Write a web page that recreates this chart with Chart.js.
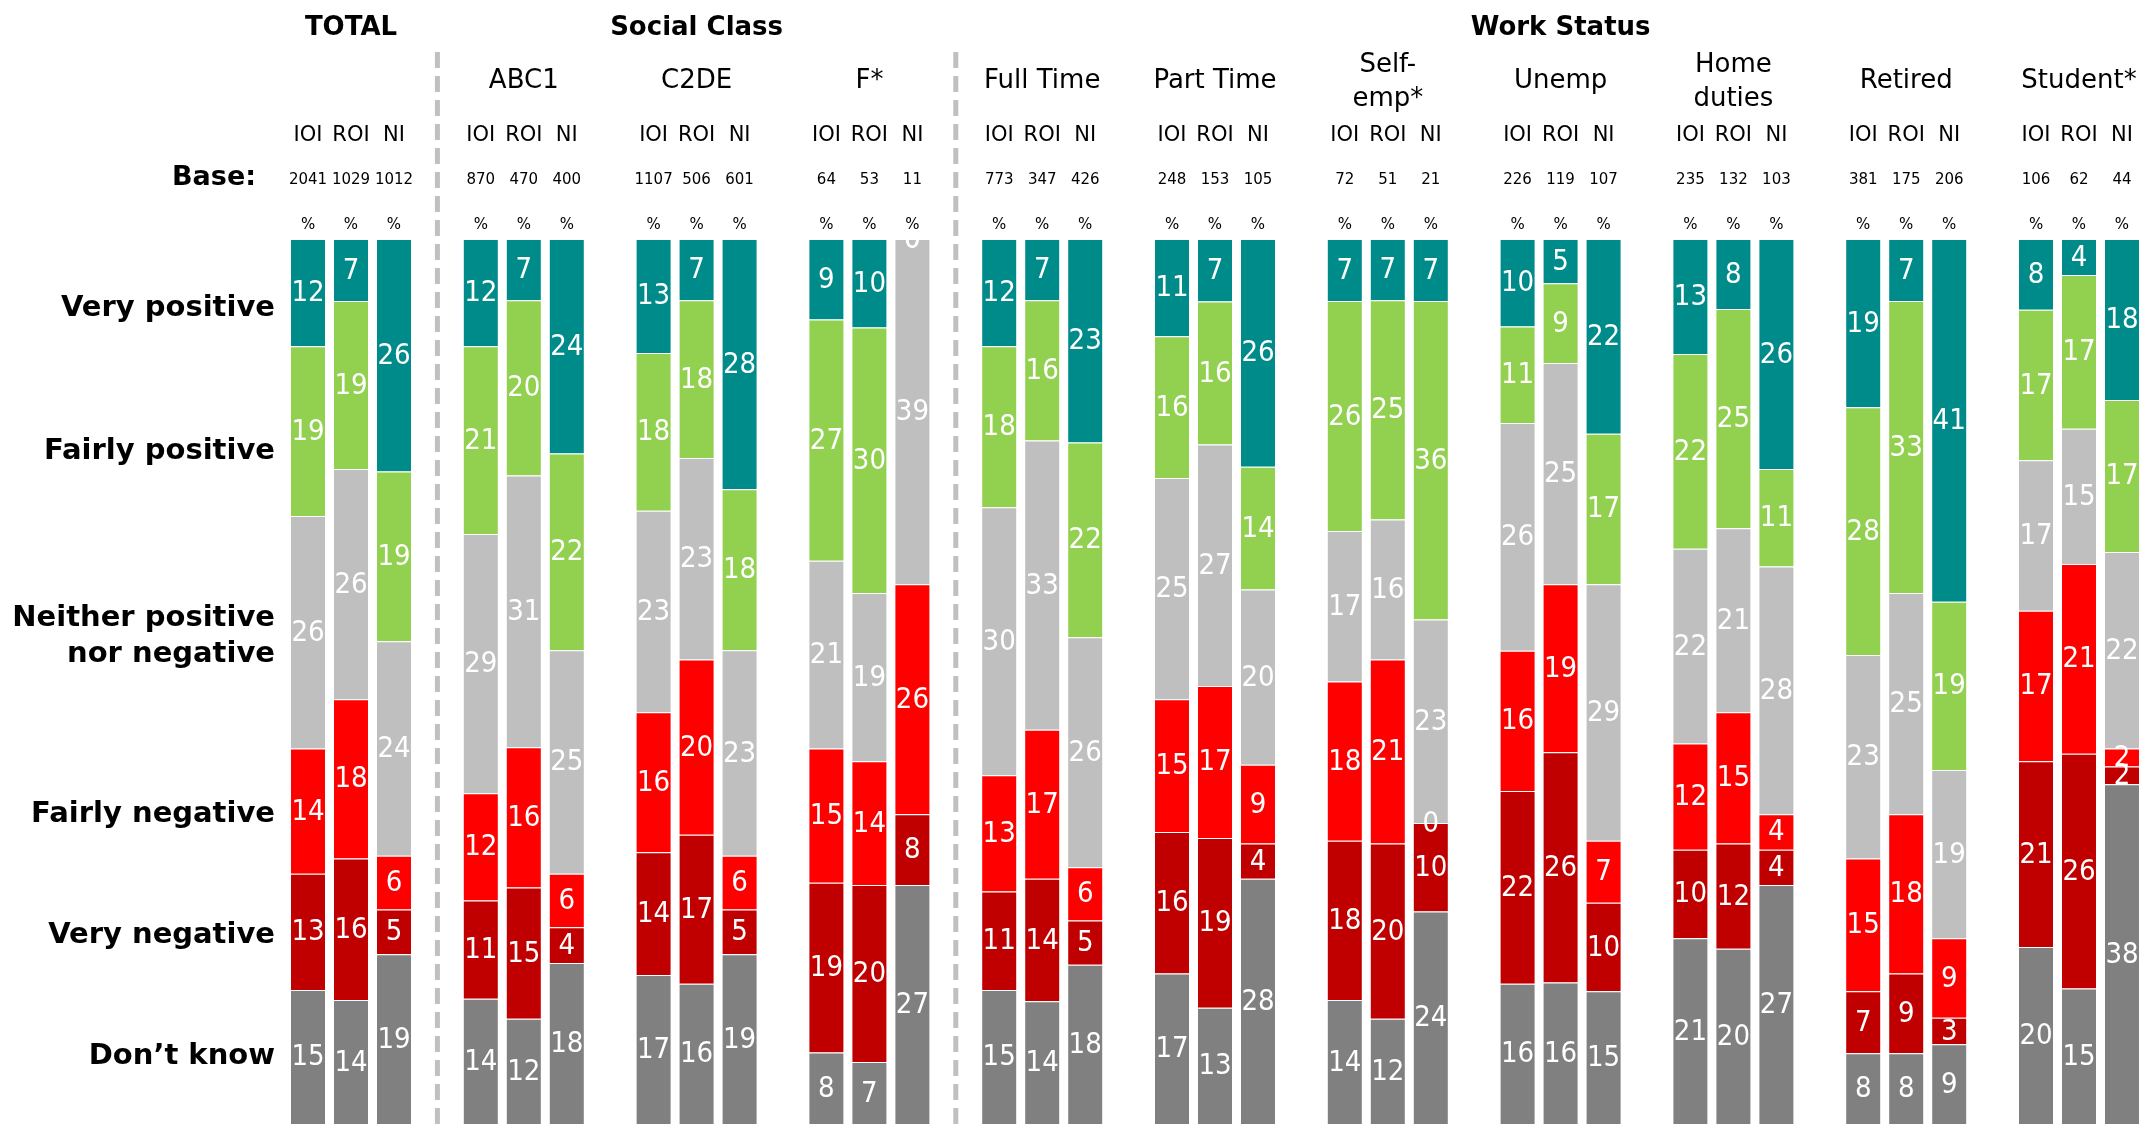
<!DOCTYPE html>
<html>
<head>
<meta charset="utf-8">
<script src="https://cdn.jsdelivr.net/npm/chart.js@4"></script>
<style>
  html, body { margin: 0; padding: 0; background: #fff; overflow: hidden; }
  canvas { display: block; }
</style>
</head>
<body>
<canvas id="grafico" width="2170" height="1125"></canvas>
<script>
// categories (column groups) and their header lines
var categories = ['TOTAL','ABC1','C2DE','F*','Full Time','Part Time','Self-emp*','Unemp','Home duties','Retired','Student*'];
var headerLines = [[], ['ABC1'], ['C2DE'], ['F*'], ['Full Time'], ['Part Time'], ['Self-','emp*'], ['Unemp'], ['Home','duties'], ['Retired'], ['Student*']];
var sections = ['TOTAL', 'Social Class', 'Work Status'];
var sectionSpans = [[0,0], [1,3], [4,10]];
var regions = ['IOI', 'ROI', 'NI'];

var baseIOI = [2041, 870, 1107, 64, 773, 248, 72, 226, 235, 381, 106];
var baseROI = [1029, 470, 506, 53, 347, 153, 51, 119, 132, 175, 62];
var baseNI  = [1012, 400, 601, 11, 426, 105, 21, 107, 103, 206, 44];

// series values (%)
var veryPositiveIOI = [12, 12, 13, 9, 12, 11, 7, 10, 13, 19, 8];
var veryPositiveROI = [7, 7, 7, 10, 7, 7, 7, 5, 8, 7, 4];
var veryPositiveNI  = [26, 24, 28, 0, 23, 26, 7, 22, 26, 41, 18];

var fairlyPositiveIOI = [19, 21, 18, 27, 18, 16, 26, 11, 22, 28, 17];
var fairlyPositiveROI = [19, 20, 18, 30, 16, 16, 25, 9, 25, 33, 17];
var fairlyPositiveNI  = [19, 22, 18, 0, 22, 14, 36, 17, 11, 19, 17];

var neitherIOI = [26, 29, 23, 21, 30, 25, 17, 26, 22, 23, 17];
var neitherROI = [26, 31, 23, 19, 33, 27, 16, 25, 21, 25, 15];
var neitherNI  = [24, 25, 23, 39, 26, 20, 23, 29, 28, 19, 22];

var fairlyNegativeIOI = [14, 12, 16, 15, 13, 15, 18, 16, 12, 15, 17];
var fairlyNegativeROI = [18, 16, 20, 14, 17, 17, 21, 19, 15, 18, 21];
var fairlyNegativeNI  = [6, 6, 6, 26, 6, 9, 0, 7, 4, 9, 2];

var veryNegativeIOI = [13, 11, 14, 19, 11, 16, 18, 22, 10, 7, 21];
var veryNegativeROI = [16, 15, 17, 20, 14, 19, 20, 26, 12, 9, 26];
var veryNegativeNI  = [5, 4, 5, 8, 5, 4, 10, 10, 4, 3, 2];

var dontKnowIOI = [15, 14, 17, 8, 15, 17, 14, 16, 21, 8, 20];
var dontKnowROI = [14, 12, 16, 7, 14, 13, 12, 16, 20, 8, 15];
var dontKnowNI  = [19, 18, 19, 27, 18, 28, 24, 15, 27, 9, 38];

// bottom to top
var responses = ['Don’t know', 'Very negative', 'Fairly negative', 'Neither positive nor negative', 'Fairly positive', 'Very positive'];
var responseColors = ['#808080', '#C00000', '#FF0000', '#BFBFBF', '#92D050', '#008B8B'];
var seriesByResponse = [
    [dontKnowIOI, dontKnowROI, dontKnowNI],
    [veryNegativeIOI, veryNegativeROI, veryNegativeNI],
    [fairlyNegativeIOI, fairlyNegativeROI, fairlyNegativeNI],
    [neitherIOI, neitherROI, neitherNI],
    [fairlyPositiveIOI, fairlyPositiveROI, fairlyPositiveNI],
    [veryPositiveIOI, veryPositiveROI, veryPositiveNI]
];
var bases = [baseIOI, baseROI, baseNI];

// row labels on the left
var rowLabels = [['Very positive'], ['Fairly positive'], ['Neither positive', 'nor negative'], ['Fairly negative'], ['Very negative'], ['Don’t know']];
var rowLabelY = [[308], [451], [618, 654], [814], [935], [1056]];

// bars are drawn as 100% stacked
var totals = regions.map(function (r, j) {
    return categories.map(function (c, i) {
        var s = 0;
        seriesByResponse.forEach(function (ser) { s += ser[j][i]; });
        return s;
    });
});

var datasets = [];
seriesByResponse.forEach(function (ser, k) {
    regions.forEach(function (r, j) {
        datasets.push({
            label: responses[k] + ' ' + r,
            stack: r,
            raw: ser[j],
            data: ser[j].map(function (v, i) { return v / totals[j][i] * 100; }),
            backgroundColor: responseColors[k],
            borderColor: '#ffffff',
            borderWidth: 1,
            categoryPercentage: 0.7465,
            barPercentage: 0.837
        });
    });
});

var FONT = '"DejaVu Sans", Verdana, sans-serif';

var valueLabels = {
    id: 'valueLabels',
    afterDatasetsDraw: function (chart) {
        var ctx = chart.ctx, a = chart.chartArea;
        ctx.save();
        ctx.beginPath();
        ctx.rect(a.left, a.top, a.right - a.left, a.bottom - a.top);
        ctx.clip();
        ctx.font = '29px "DejaVu Sans Condensed", "DejaVu Sans", sans-serif';
        ctx.fillStyle = '#ffffff';
        ctx.textAlign = 'center';
        ctx.textBaseline = 'middle';
        chart.data.datasets.forEach(function (ds, k) {
            chart.getDatasetMeta(k).data.forEach(function (el, i) {
                ctx.fillText(String(ds.raw[i]), el.x, (el.y + el.base) / 2 + 1);
            });
        });
        ctx.restore();
    }
};

var headers = {
    id: 'headers',
    afterDraw: function (chart) {
        var ctx = chart.ctx, xs = chart.scales.x;
        ctx.save();
        ctx.fillStyle = '#000';
        ctx.textBaseline = 'middle';
        ctx.textAlign = 'center';

        // separators
        ctx.strokeStyle = '#C0C0C0';
        ctx.lineWidth = 5;
        ctx.setLineDash([16, 8]);
        [[0, 1], [3, 4]].forEach(function (p) {
            var x = (xs.getPixelForValue(p[0]) + xs.getPixelForValue(p[1])) / 2;
            ctx.beginPath();
            ctx.moveTo(x, 52);
            ctx.lineTo(x, 1125);
            ctx.stroke();
        });
        ctx.setLineDash([]);

        // section titles
        ctx.font = 'bold 26px ' + FONT;
        sections.forEach(function (s, n) {
            var x = (xs.getPixelForValue(sectionSpans[n][0]) + xs.getPixelForValue(sectionSpans[n][1])) / 2;
            ctx.fillText(s, x, 28);
        });

        // group names
        ctx.font = '26px ' + FONT;
        headerLines.forEach(function (lines, i) {
            var x = xs.getPixelForValue(i);
            if (lines.length === 1) ctx.fillText(lines[0], x, 81);
            if (lines.length === 2) { ctx.fillText(lines[0], x, 65); ctx.fillText(lines[1], x, 99); }
        });

        // region labels, bases and %
        categories.forEach(function (c, i) {
            regions.forEach(function (r, j) {
                var x = chart.getDatasetMeta(j).data[i].x;
                ctx.font = '21px ' + FONT;
                ctx.fillText(r, x, 136);
                ctx.font = '15px ' + FONT;
                ctx.fillText(String(bases[j][i]), x, 180);
                ctx.fillText('%', x, 225);
            });
        });

        ctx.textAlign = 'right';
        ctx.font = 'bold 27px ' + FONT;
        ctx.fillText('Base:', 256, 178);

        ctx.font = 'bold 29px ' + FONT;
        rowLabels.forEach(function (lines, n) {
            lines.forEach(function (t, m) { ctx.fillText(t, 275, rowLabelY[n][m]); });
        });
        ctx.restore();
    }
};

var ctx = document.querySelector('#grafico').getContext('2d');
var chart = new Chart(ctx, {
    type: 'bar',
    data: { labels: categories, datasets: datasets },
    options: {
        responsive: false,
        animation: false,
        devicePixelRatio: 1,
        layout: { padding: { left: 264.6, right: 4.6, top: 239, bottom: 1 } },
        plugins: { legend: { display: false }, tooltip: { enabled: false } },
        scales: {
            x: { stacked: true, display: false },
            y: { stacked: true, display: false, min: 0, max: 100 }
        }
    },
    plugins: [valueLabels, headers]
});
</script>
</body>
</html>
